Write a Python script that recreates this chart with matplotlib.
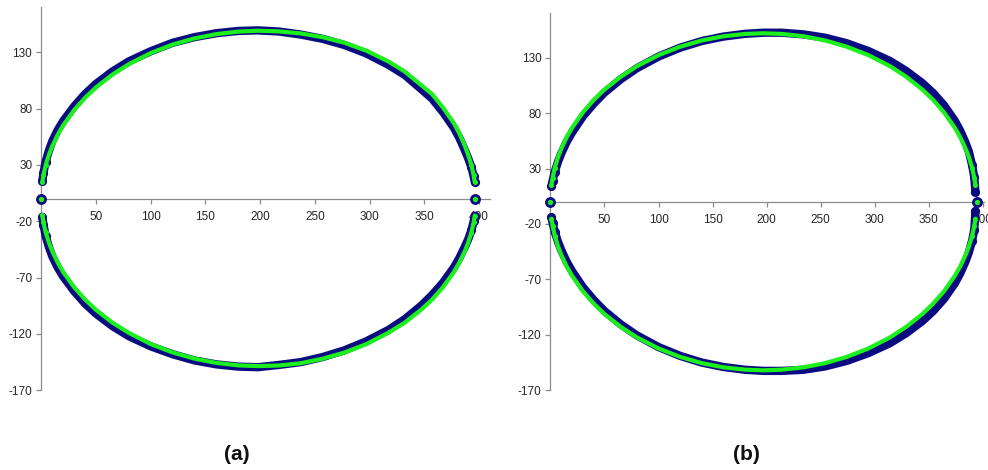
import matplotlib
matplotlib.use("Agg")
import matplotlib.pyplot as plt

plt.rcParams['font.family'] = ['Liberation Sans', 'DejaVu Sans']

# ---------------- data ----------------
# Panel (a)
xa = [1, 2, 4, 7, 10, 15, 20, 30, 40, 50, 65, 80, 100, 120, 140, 160, 180, 198,
      217, 237, 257, 277, 297, 317, 332, 347, 357, 367, 377, 382, 387, 390, 393, 395, 396]
a_green_up = [14.9, 21.1, 29.8, 39.2, 46.7, 56.8, 65.2, 78.8, 89.7, 98.9, 110.3, 119.5, 129.4,
              136.9, 142.4, 146.2, 148.4, 149.2,
              148.6, 146.8, 143.5, 138.5, 131.5, 122.0, 113.0, 101.0, 93.0, 81.0, 67.0,
              58.0, 47.0, 39.0, 30.0, 21.0, 15.0]
a_blue_up = [16, 23, 33, 43, 51, 61, 69, 82, 93, 102, 113, 122, 131, 138.5, 143.5, 147, 149, 149.5,
             148.5, 145.8, 142, 136.5, 129, 119, 110, 97.5, 89, 77, 63, 54, 43, 36, 28, 20, 15]
a_green_lo = [-14.8, -21, -29.7, -39, -46.5, -56.6, -65, -78.5, -89.4, -98.6, -110, -119, -129,
              -136.4, -141.9, -145.7, -147.9, -148.5,
              -148, -146, -142, -136.5, -129, -119, -110, -98.5, -89.5, -78.5, -65,
              -56.5, -46.5, -39, -30, -21, -15]
a_blue_lo = [-16, -23, -33, -43, -51, -61, -69, -82, -93, -102, -113, -122, -131, -138, -143.5,
             -147, -149, -149.5,
             -147.5, -145, -140.5, -134.5, -126.5, -116.5, -107, -95, -85.5, -74.5, -61,
             -52.5, -42.5, -36, -28, -20, -15]
a_end_x = [0, 396]
a_end_y = [0, 0]

# Panel (b)
xb = [1, 2, 4, 7, 10, 15, 20, 30, 40, 50, 65, 80, 100, 120, 140, 160, 180, 197,
      214, 234, 254, 274, 294, 314, 329, 344, 354, 364, 374, 379, 384, 387, 390, 392, 393]
b_green_up = [15.3, 21.6, 30.5, 40.2, 47.8, 58.2, 66.7, 80.6, 91.8, 101.2, 112.8, 122.3, 132.3,
              139.9, 145.5, 149.3, 151.4, 152.0,
              151.4, 149.3, 145.5, 139.9, 132.3, 122.3, 112.8, 101.2, 91.8, 80.6, 66.7,
              58.2, 47.8, 40.2, 30.5, 21.6, 15.3]
b_blue_up = [14, 19, 27, 36, 43.5, 54, 62.5, 77, 88.5, 98.5, 110.5, 120.5, 131, 139, 145, 149,
             151.5, 152.5,
             152.5, 151, 148, 143, 136, 127, 118, 107, 98, 87, 73, 64, 53, 45, 33, 22, 8.5]
b_green_lo = [-15.3, -21.6, -30.5, -40.2, -47.8, -58.2, -66.7, -80.6, -91.8, -101.2, -112.8,
              -122.3, -132.3, -139.9, -145.5, -149.3, -151.4, -152.0,
              -151.4, -149.3, -145.5, -139.9, -132.3, -122.3, -112.8, -101.2, -91.8, -80.6,
              -66.7, -58.2, -47.8, -40.2, -30.5, -21.6, -15.3]
b_blue_lo = [-14, -19, -27, -36, -43.5, -54, -62.5, -77, -88.5, -98.5, -110.5, -120.5, -131,
             -139, -145, -149, -151.5, -152.5,
             -152.5, -151.5, -148.5, -143.5, -136.5, -127.5, -118.5, -107.5, -98.5, -87.5,
             -73.5, -64.5, -53.5, -45.5, -35, -25, -8.5]
b_end_x = [0, 394.5]
b_end_y = [0, 0]

yticks = [-170, -120, -70, -20, 30, 80, 130]
xticks = [50, 100, 150, 200, 250, 300, 350, 400]
labels = ['(a)', '(b)']

NAVY = '#0c0c82'
LIME = '#1cf01c'
AXC = '#8c8c8c'

fig = plt.figure(figsize=(9.88, 4.70), dpi=100)
ax_a = fig.add_axes([0.0418, 0.1696, 0.4542, 0.8149])
ax_b = fig.add_axes([0.5571, 0.1696, 0.4389, 0.8021])


def draw(ax, x, gu, bu, gl, bl, ex, ey, xmax):
    n = len(x)
    ends = [0, 1, 2, n - 3, n - 2, n - 1]
    for yy in (bu, bl):
        ax.plot(x, yy, color=NAVY, lw=6.0, marker='o', ms=5.6, mfc=NAVY, mec=NAVY,
                markevery=ends, solid_capstyle='round', solid_joinstyle='round',
                zorder=3, clip_on=False)
    ax.plot(ex, ey, ls='none', marker='o', ms=6.8, mfc=NAVY, mec=NAVY, zorder=3, clip_on=False)
    for yy in (gu, gl):
        ax.plot(x, yy, color=LIME, lw=3.0, marker='o', ms=2.6, mfc=LIME, mec=LIME,
                markevery=ends, solid_capstyle='round', solid_joinstyle='round',
                zorder=4, clip_on=False)
    ax.plot(ex, ey, ls='none', marker='o', ms=2.8, mfc=LIME, mec=LIME, zorder=4, clip_on=False)

    ax.set_xlim(0, xmax)
    ax.set_ylim(-170, 170)
    ax.spines['left'].set_position(('data', 0))
    ax.spines['bottom'].set_position(('data', 0))
    ax.spines['top'].set_visible(False)
    ax.spines['right'].set_visible(False)
    for s in ('left', 'bottom'):
        ax.spines[s].set_color(AXC)
        ax.spines[s].set_linewidth(0.9)
    ax.set_yticks(yticks)
    ax.set_xticks(xticks)
    ax.set_yticklabels([str(v) for v in yticks])
    ax.set_xticklabels([str(v) for v in xticks])
    ax.tick_params(axis='both', direction='out', length=3.5, width=0.9, color=AXC,
                   labelsize=8.5, labelcolor='#262626')
    ax.tick_params(axis='x', pad=5)
    ax.tick_params(axis='y', pad=3)
    ax.patch.set_alpha(0)


draw(ax_a, xa, a_green_up, a_blue_up, a_green_lo, a_blue_lo, a_end_x, a_end_y, 410)
draw(ax_b, xb, b_green_up, b_blue_up, b_green_lo, b_blue_lo, b_end_x, b_end_y, 401)

fig.text(237 / 988, 1 - 455 / 470, labels[0], ha='center', va='center',
         fontsize=15, fontweight='bold', color='#111111')
fig.text(746 / 988, 1 - 455 / 470, labels[1], ha='center', va='center',
         fontsize=15, fontweight='bold', color='#111111')

fig.savefig('out.png', dpi=100)
